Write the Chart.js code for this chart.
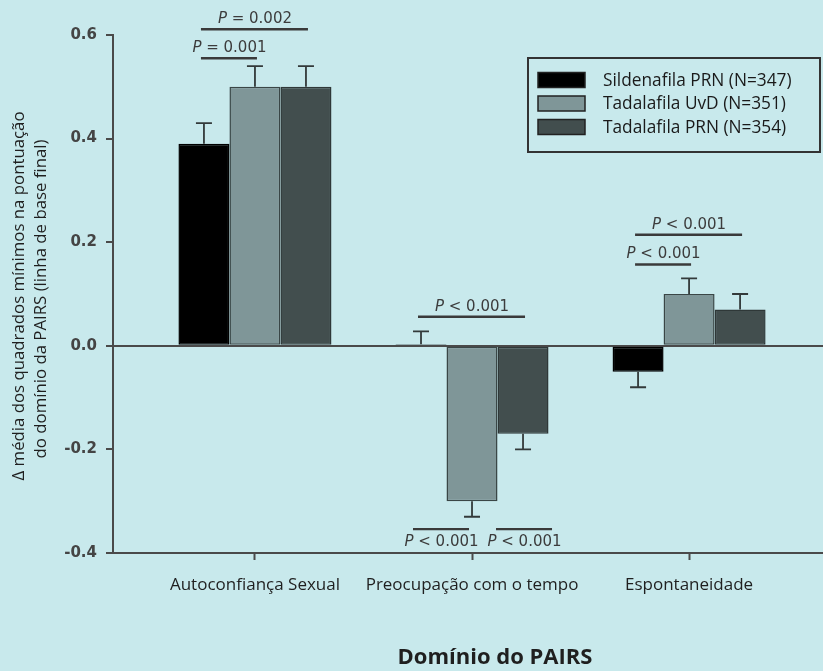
<!DOCTYPE html>
<html>
<head>
<meta charset="utf-8">
<script src="https://cdn.jsdelivr.net/npm/chart.js@4/dist/chart.umd.min.js"></script>
<style>
  html, body { margin: 0; padding: 0; background: #c8e9ec; }
  #wrap { width: 823px; height: 671px; position: relative; }
</style>
</head>
<body>
<div id="wrap"><canvas id="c" width="823" height="671"></canvas></div>
<script>
// PAIRS domains and least-squares mean change from baseline
const categories = ['Autoconfiança Sexual', 'Preocupação com o tempo', 'Espontaneidade'];
const seriesNames = ['Sildenafila PRN (N=347)', 'Tadalafila UvD (N=351)', 'Tadalafila PRN (N=354)'];
const sildenafilPRN = [0.39, 0.003, -0.05];
const tadalafilDaily = [0.50, -0.30, 0.10];
const tadalafilPRN = [0.50, -0.17, 0.07];
// standard errors (drawn one-sided, away from zero)
const sildenafilPRNErr = [0.04, 0.025, 0.03];
const tadalafilDailyErr = [0.04, 0.03, 0.03];
const tadalafilPRNErr = [0.04, 0.03, 0.03];
const yTicks = [-0.4, -0.2, 0.0, 0.2, 0.4, 0.6];

// pairwise comparisons: category, bar pair, line height (y units), label
const comparisons = [
  { cat: 0, from: 0, to: 1, y: 0.555, label: 'P = 0.001', dx: 0 },
  { cat: 0, from: 0, to: 2, y: 0.611, label: 'P = 0.002', dx: 0 },
  { cat: 1, from: 0, to: 2, y: 0.056, label: 'P < 0.001', dx: 0 },
  { cat: 1, from: 0, to: 1, y: -0.354, label: 'P < 0.001', below: true, dx: -5 },
  { cat: 1, from: 1, to: 2, y: -0.354, label: 'P < 0.001', below: true, dx: 27 },
  { cat: 2, from: 0, to: 2, y: 0.2145, label: 'P < 0.001', dx: 0 },
  { cat: 2, from: 0, to: 1, y: 0.157, label: 'P < 0.001', dx: 0 }
];

const fills = ['#000000', '#7f9698', '#424e4e'];
const edges = ['#000000', '#3a4646', '#2f3838'];
const values = [sildenafilPRN, tadalafilDaily, tadalafilPRN];
const errors = [sildenafilPRNErr, tadalafilDailyErr, tadalafilPRNErr];

const HUMANIST = '"Open Sans", "Noto Sans", sans-serif';
const GROTESK = '"DejaVu Sans", sans-serif';

const datasets = values.map((vals, s) => ({
  label: seriesNames[s],
  data: vals.map((v, i) => ({ x: i + 1, y: v })),
  errors: errors[s],
  backgroundColor: fills[s],
  borderColor: edges[s],
  borderWidth: 1.5,
  borderSkipped: false,
  barPercentage: 1,
  categoryPercentage: 0.705
}));

const errorBars = {
  id: 'errorBars',
  afterDatasetsDraw(chart) {
    const ctx = chart.ctx, yScale = chart.scales.y;
    ctx.save();
    ctx.strokeStyle = '#333a3a';
    ctx.lineWidth = 1.8;
    chart.data.datasets.forEach((ds, di) => {
      const meta = chart.getDatasetMeta(di);
      meta.data.forEach((bar, i) => {
        const v = ds.data[i].y;
        const e = ds.errors[i];
        const sign = v >= 0 ? 1 : -1;
        const y0 = yScale.getPixelForValue(v);
        const y1 = yScale.getPixelForValue(v + sign * e);
        ctx.beginPath();
        ctx.moveTo(bar.x, y0);
        ctx.lineTo(bar.x, y1);
        ctx.moveTo(bar.x - 8, y1);
        ctx.lineTo(bar.x + 8, y1);
        ctx.stroke();
      });
    });
    ctx.restore();
  }
};

const annotations = {
  id: 'annotations',
  afterDraw(chart) {
    const ctx = chart.ctx, yScale = chart.scales.y;
    ctx.save();
    // comparison lines and p-values
    comparisons.forEach(c => {
      const xa = chart.getDatasetMeta(c.from).data[c.cat].x + c.dx;
      const xb = chart.getDatasetMeta(c.to).data[c.cat].x + c.dx;
      const y = yScale.getPixelForValue(c.y);
      ctx.strokeStyle = '#3a3a3a';
      ctx.lineWidth = 2.4;
      ctx.beginPath();
      ctx.moveTo(xa - 3, y);
      ctx.lineTo(xb + 2, y);
      ctx.stroke();
      const parts = c.label.split(' ');
      const cx = (xa + xb) / 2;
      ctx.fillStyle = '#3c3c3c';
      ctx.font = 'italic 15px ' + GROTESK;
      const wP = ctx.measureText(parts[0] + ' ').width;
      ctx.font = '15px ' + GROTESK;
      const rest = parts.slice(1).join(' ');
      const wR = ctx.measureText(rest).width;
      const left = cx - (wP + wR) / 2;
      ctx.textBaseline = c.below ? 'top' : 'alphabetic';
      const ty = c.below ? y + 5 : y - 6;
      ctx.textAlign = 'left';
      ctx.font = 'italic 15px ' + GROTESK;
      ctx.fillText(parts[0], left, ty);
      ctx.font = '15px ' + GROTESK;
      ctx.fillText(rest, left + wP, ty);
    });

    // legend box
    const lx = 528, ly = 58, lw = 292, lh = 94;
    ctx.strokeStyle = '#333';
    ctx.lineWidth = 2;
    ctx.strokeRect(lx, ly, lw, lh);
    chart.data.datasets.forEach((ds, i) => {
      const ry = ly + 22 + i * 23.5;
      ctx.fillStyle = ds.backgroundColor;
      ctx.fillRect(lx + 10, ry - 7.5, 47, 15);
      ctx.strokeStyle = '#222';
      ctx.lineWidth = 1.5;
      ctx.strokeRect(lx + 10, ry - 7.5, 47, 15);
      ctx.fillStyle = '#1a1a1a';
      ctx.font = '17.3px ' + HUMANIST;
      ctx.textAlign = 'left';
      ctx.textBaseline = 'middle';
      ctx.fillText(ds.label, lx + 75, ry + 1);
    });

    // axis titles
    ctx.fillStyle = '#1f1f1f';
    ctx.font = '16.8px ' + HUMANIST;
    ctx.textAlign = 'center';
    ctx.textBaseline = 'middle';
    ctx.save();
    ctx.translate(19, 296);
    ctx.rotate(-Math.PI / 2);
    ctx.fillText('\u0394 média dos quadrados mínimos na pontuação', 0, 0);
    ctx.restore();
    ctx.save();
    ctx.translate(41, 299);
    ctx.rotate(-Math.PI / 2);
    ctx.fillText('do domínio da PAIRS (linha de base final)', 0, 0);
    ctx.restore();
    ctx.font = 'bold 22px ' + HUMANIST;
    ctx.fillText('Domínio do PAIRS', 495, 658);
    ctx.restore();
  }
};

const background = {
  id: 'background',
  beforeDraw(chart) {
    const ctx = chart.ctx;
    ctx.save();
    ctx.fillStyle = '#c8e9ec';
    ctx.fillRect(0, 0, chart.width, chart.height);
    ctx.restore();
  }
};

new Chart(document.getElementById('c'), {
  type: 'bar',
  data: { datasets },
  plugins: [background, errorBars, annotations],
  options: {
    responsive: false,
    animation: false,
    layout: { padding: { top: 35, left: 0, right: 0, bottom: 0 } },
    plugins: { legend: { display: false }, tooltip: { enabled: false } },
    scales: {
      x: {
        type: 'linear',
        offset: false,
        min: 0.346,
        max: 3.617,
        afterBuildTicks(scale) { scale.ticks = categories.map((_, i) => ({ value: i + 1 })); },
        afterFit(scale) { scale.height = 118; },
        ticks: {
          autoSkip: false,
          maxRotation: 0,
          padding: 15,
          color: '#1f1f1f',
          font: { family: HUMANIST, size: 17 },
          callback: v => categories[v - 1] || ''
        },
        grid: { offset: false, drawOnChartArea: false, tickLength: 7, tickColor: '#4a4a4a', tickWidth: 2 },
        border: { display: true, color: '#4a4a4a', width: 2 }
      },
      y: {
        min: -0.4,
        max: 0.6,
        afterBuildTicks(scale) { scale.ticks = yTicks.map(v => ({ value: v })); },
        afterFit(scale) { scale.width = 113; },
        ticks: {
          padding: 9,
          color: '#444',
          font: { family: GROTESK, size: 15, weight: 'bold' },
          callback: v => v.toFixed(1)
        },
        grid: {
          drawOnChartArea: true,
          tickLength: 7,
          tickWidth: 2,
          tickColor: '#4a4a4a',
          lineWidth: 2,
          color: c => (c.tick && c.tick.value === 0 ? '#4a4a4a' : 'rgba(0,0,0,0)')
        },
        border: { display: true, color: '#4a4a4a', width: 2 }
      }
    }
  }
});
</script>
</body>
</html>
